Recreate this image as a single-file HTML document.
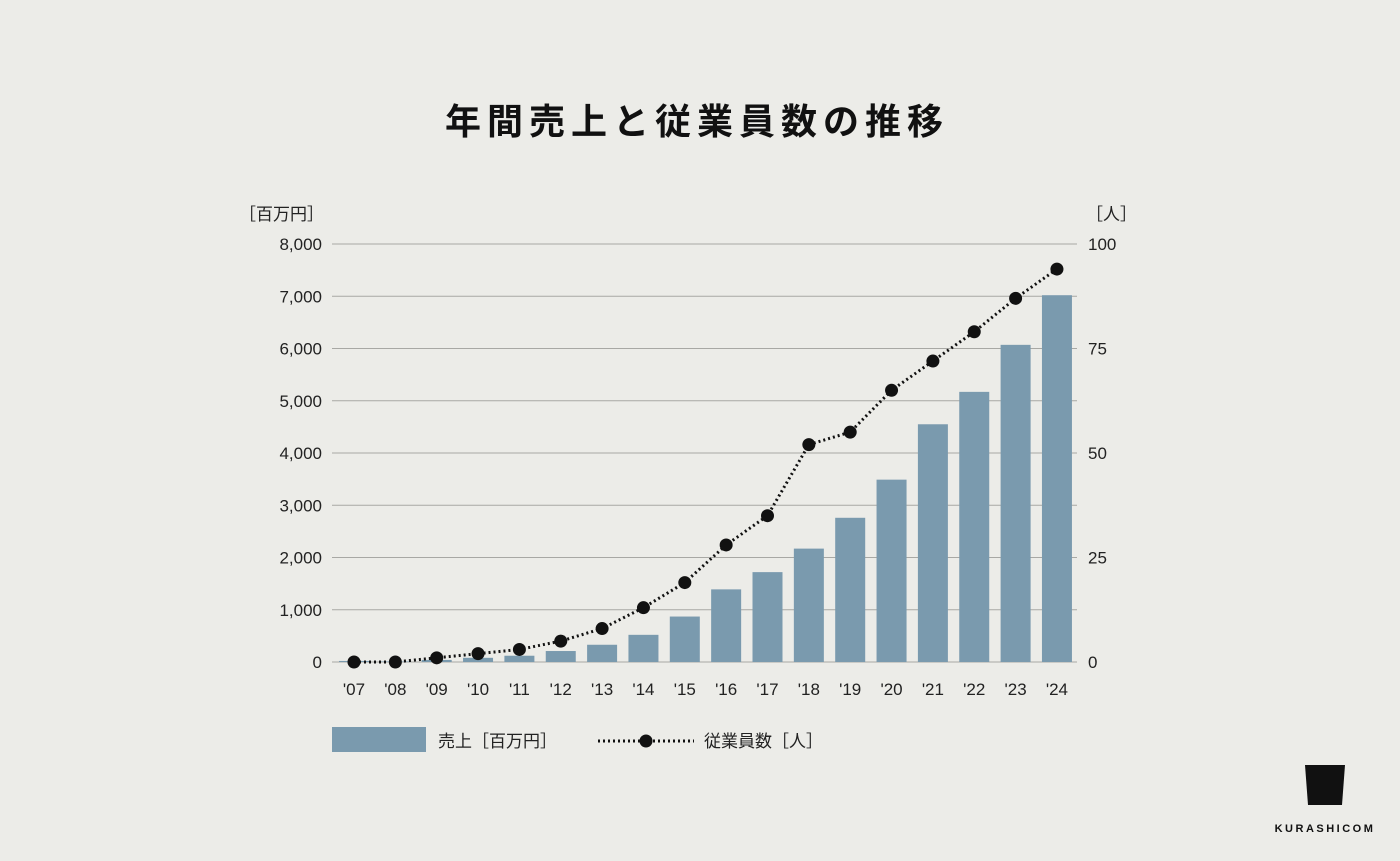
<!DOCTYPE html>
<html><head><meta charset="utf-8">
<style>
html,body{margin:0;padding:0;background:#ecece8;}
body{width:1400px;height:856px;overflow:hidden;font-family:"Liberation Sans","Noto Sans CJK JP",sans-serif;}
</style></head>
<body>
<svg width="1400" height="856" xmlns="http://www.w3.org/2000/svg" style="font-family:'Liberation Sans','Noto Sans CJK JP',sans-serif">
<text x="697" y="134" text-anchor="middle" font-size="36" font-weight="bold" fill="#111" letter-spacing="6">年間売上と従業員数の推移</text>
<text x="324" y="220" text-anchor="end" font-size="17" fill="#222">［百万円］</text>
<text x="1086" y="220" font-size="17" fill="#222">［人］</text>
<g id="grid"></g><g id="bars"></g><g id="line"></g><g id="labels"></g>
<rect x="332" y="727" width="94" height="25" fill="#7a9aae"/>
<text x="438" y="747" font-size="17" fill="#222">売上［百万円］</text>
<line x1="598" y1="741" x2="694" y2="741" stroke="#111" stroke-width="3" stroke-dasharray="2,3"/>
<circle cx="646" cy="741" r="6.5" fill="#111"/>
<text x="704" y="747" font-size="17" fill="#222">従業員数［人］</text>
<polygon points="1305,765 1345,765 1342,805 1308,805" fill="#111"/>
<text x="1325" y="832" text-anchor="middle" font-size="11" font-weight="bold" letter-spacing="2.5" fill="#111">KURASHICOM</text>
</svg>
<script>
const years=["'07","'08","'09","'10","'11","'12","'13","'14","'15","'16","'17","'18","'19","'20","'21","'22","'23","'24"];
const sales=[20,10,40,80,120,210,330,520,870,1390,1720,2170,2760,3490,4550,5170,6070,7020];
const employees=[0,0,1,2,3,5,8,13,19,28,35,52,55,65,72,79,87,94];
const leftTicks=[0,1000,2000,3000,4000,5000,6000,7000,8000];
const leftTickLabels=["0","1,000","2,000","3,000","4,000","5,000","6,000","7,000","8,000"];
const rightTicks=[0,25,50,75,100];
const NS="http://www.w3.org/2000/svg";
const x0=354,dx=41.35,yB=662,yT=244;
const xs=i=>x0+i*dx;
const yL=v=>yB-(v/8000)*(yB-yT);
const yR=v=>yB-(v/100)*(yB-yT);
function mk(t,a,p){const e=document.createElementNS(NS,t);for(const k in a)e.setAttribute(k,a[k]);document.getElementById(p).appendChild(e);return e;}
leftTicks.forEach((v,i)=>{
 const l=mk('line',{x1:332,x2:1077,y1:yL(v),y2:yL(v),stroke:'#a8a8a4','stroke-width':1},'grid');
 
 
 const t=mk('text',{x:322,y:yL(v)+6,'text-anchor':'end','font-size':17,fill:'#222'},'labels');
 t.textContent=leftTickLabels[i];
 
 
});
rightTicks.forEach(v=>{
 const t=mk('text',{x:1088,y:yR(v)+6,'font-size':17,fill:'#222'},'labels');
 t.textContent=String(v);
 
 
});
years.forEach((y,i)=>{
 const h=yB-yL(sales[i]);
 const b=mk('rect',{x:xs(i)-15,y:yL(sales[i]),width:30,height:h,fill:'#7a9aae'},'bars');
 
 
 const t=mk('text',{x:xs(i),y:695,'text-anchor':'middle','font-size':17,fill:'#222'},'labels');
 t.textContent=y;
 
 
});
const pl=mk('polyline',{points:employees.map((v,i)=>xs(i)+','+yR(v)).join(' '),fill:'none',stroke:'#111','stroke-width':3,'stroke-dasharray':'2,3'},'line');


employees.forEach((v,i)=>{
 const c=mk('circle',{cx:xs(i),cy:yR(v),r:6.5,fill:'#111'},'line');
 
 
});
</script>
</body></html>
